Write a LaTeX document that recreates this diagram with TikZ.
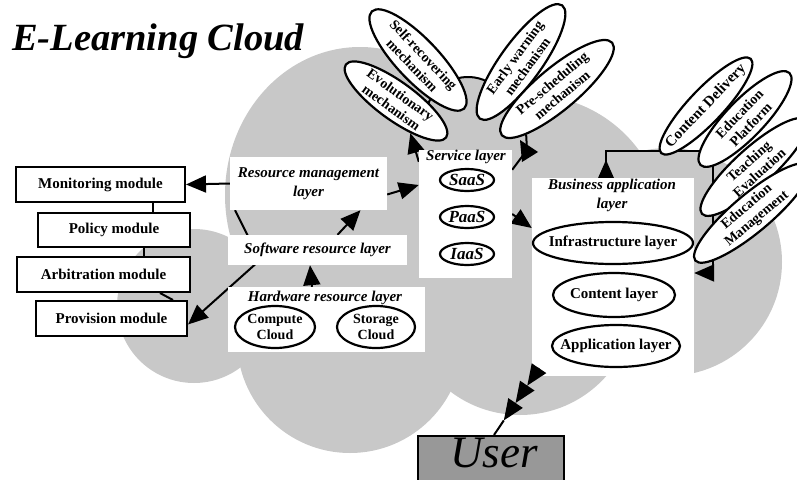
\documentclass[tikz,border=0pt]{standalone}
\usepackage{fontspec}
\setmainfont{Liberation Serif}
\usetikzlibrary{arrows.meta,shapes.geometric,calc}
\definecolor{cloudgray}{RGB}{200,200,200}
\definecolor{usergray}{RGB}{152,152,152}
\pgfdeclarelayer{bg}
\pgfdeclarelayer{links}
\pgfsetlayers{bg,links,main}
\begin{document}
\begin{tikzpicture}[x=1pt,y=-1pt,
  conn/.style={line width=2pt, line join=miter},
  arr/.style={conn,-{Triangle[length=20pt,width=17pt]}},
  modbox/.style={draw, line width=2pt, fill=white, inner sep=0pt,
    font=\bfseries\fontsize{15}{18}\selectfont},
  layerbox/.style={fill=white, inner sep=0pt},
  ttl/.style={font=\bfseries\itshape\fontsize{15}{19}\selectfont, align=center, inner sep=0pt},
  oval/.style={ellipse, draw, line width=2.2pt, fill=white, inner xsep=-40pt, inner ysep=-10pt,
    font=\bfseries\fontsize{15}{17}\selectfont, align=center},
  tight/.style={font=\bfseries\fontsize{14}{15.6}\selectfont},
  svcoval/.style={oval, minimum width=54pt, minimum height=22pt,
    font=\bfseries\itshape\fontsize{17}{17}\selectfont},
]
\useasboundingbox (0,0) rectangle (797,479);
\clip (0,0) rectangle (797,479);

% cloud silhouette
\begin{pgfonlayer}{bg}
  \fill[cloudgray] (360,195) ellipse [x radius=135pt, y radius=148pt];
  \fill[cloudgray] (194,306) circle [radius=77pt];
  \fill[cloudgray] (350,340) circle [radius=113pt];
  \fill[cloudgray] (520,300) circle [radius=115pt];
  \fill[cloudgray] (530,230) circle [radius=135pt];
  \fill[cloudgray] (668,262) circle [radius=114pt];
  \fill[cloudgray] (468,120) circle [radius=43pt];
  \draw[conn] ($(468,120)+(160:43pt)$) arc[start angle=160, end angle=20, radius=43pt];
\end{pgfonlayer}

% title
\node[anchor=base west, inner sep=0pt, font=\bfseries\itshape\fontsize{38.5}{38.5}\selectfont]
  (title) at (12,50) {E-Learning Cloud};

% management modules
\node[modbox, minimum width=169pt, minimum height=35pt] (mon) at (100.5,184.5) {Monitoring module};
\node[modbox, minimum width=152pt, minimum height=34pt] (pol) at (114,230) {Policy module};
\node[modbox, minimum width=173pt, minimum height=35pt] (arb) at (103.5,274.5) {Arbitration module};
\node[modbox, minimum width=151pt, minimum height=35pt] (pro) at (111.5,318.5) {Provision module};

% resource layers
\node[layerbox, ttl, minimum width=157pt, minimum height=53pt] (rm) at (308.5,183.5) {Resource management\\layer};
\node[layerbox, ttl, minimum width=179pt, minimum height=30pt] (sw) at (317.5,250) {Software resource layer};
\node[layerbox, minimum width=197pt, minimum height=65pt] (hw) at (326.5,319.5) {};
\node[ttl] (hwt) at (325,298) {Hardware resource layer};
\node[oval, tight, minimum width=80pt, minimum height=42pt] (cc) at (275,327) {Compute\\Cloud};
\node[oval, tight, minimum width=78pt, minimum height=42pt] (sc) at (376,327) {Storage\\Cloud};

% service layer
\node[layerbox, minimum width=93pt, minimum height=128pt] (svc) at (465.5,214) {};
\node[ttl] (svct) at (466,157) {Service layer};
\node[svcoval] (saas) at (467,180) {SaaS};
\node[svcoval] (paas) at (467,217) {PaaS};
\node[svcoval] (iaas) at (467,254) {IaaS};

% business application layer
\node[layerbox, minimum width=162pt, minimum height=198pt] (biz) at (613,277) {};
\node[ttl] (bizt) at (612,195) {Business application\\layer};
\node[oval, minimum width=160pt, minimum height=42pt] (infra) at (613,243) {Infrastructure layer};
\node[oval, minimum width=122pt, minimum height=44pt] (cont) at (614,295) {Content layer};
\node[oval, minimum width=128pt, minimum height=42pt] (appl) at (616,346) {Application layer};

% user
\node[draw, line width=2pt, fill=usergray, minimum width=146pt, minimum height=60pt,
  anchor=north west, inner sep=0pt] (user) at (417,435) {};
\node[font=\itshape\fontsize{45}{45}\selectfont, inner sep=0pt] (usert) at (494,453) {User};

% mechanisms
\node[oval, tight, minimum width=134pt, minimum height=42pt, rotate=-46.5] (selfrec) at (418,60) {Self-recovering\\mechanism};
\node[oval, tight, minimum width=124pt, minimum height=38pt, rotate=-36] (evo) at (396,101) {Evolutionary\\mechanism};
\node[oval, tight, minimum width=140pt, minimum height=41pt, rotate=54] (early) at (521,62) {Early warning\\mechanism};
\node[oval, tight, minimum width=144pt, minimum height=42pt, rotate=40] (presch) at (557,89) {Pre-scheduling\\mechanism};

% business services
\node[oval, minimum width=130pt, minimum height=34pt, rotate=46.5] (cdel) at (706,106) {Content Delivery};
\node[oval, tight, minimum width=128pt, minimum height=38pt, rotate=46] (eplat) at (745,119) {Education\\Platform};
\node[oval, tight, minimum width=140pt, minimum height=38pt, rotate=42] (teach) at (754,167) {Teaching\\Evaluation};
\node[oval, tight, minimum width=148pt, minimum height=38pt, rotate=40] (emgmt) at (752,213) {Education\\Management};

% connectors
\coordinate (bend1) at (260,260);
\coordinate (pk) at (527,150);
\coordinate (bkA) at (606,151);
\coordinate (bkB) at (713,151);
\coordinate (bkC) at (713,273);
\coordinate (uS) at ($(biz.south)+(-74,-8)$);
\coordinate (uE) at ([xshift=3pt]user.north);
\coordinate (uT1) at ($(uS)!21pt!(uE)$);
\coordinate (uT2) at ($(uS)!42pt!(uE)$);
\coordinate (uT3) at ($(uS)!63pt!(uE)$);
\begin{pgfonlayer}{links}
  \draw[conn] ([xshift=52.5pt]mon.south) -- ([xshift=39pt]pol.north);
  \draw[conn] ([xshift=30pt]pol.south) -- ([xshift=40.5pt]arb.north);
  \draw[conn] ([xshift=56.5pt]arb.south) -- ([xshift=61.5pt]pro.north);
  \draw[arr] (rm.west) -- (mon.east);
  \draw[arr] ([xshift=-73.5pt]rm.south) -- (bend1) -- ([yshift=-6pt]pro.east);
  \draw[arr] ([xshift=20pt]sw.north) -- ([xshift=52pt]rm.south);
  \draw[arr] ([xshift=-14.5pt]hw.north) -- ([xshift=-7.5pt]sw.south);
  \draw[arr] ([yshift=-11pt]rm.east) -- ([yshift=29pt]svc.west);
  \draw[arr] ([yshift=-12pt]svc.north west) -- (evo.-30);
  \draw[conn] (presch.196) -- (pk) -- ([yshift=-20pt]svc.north east);
  \fill ($(pk)+(-7,-10)$) -- ($(pk)+(11,2)$) -- ($(pk)+(-5,12)$) -- cycle;
  \draw[arr] (svc.east) -- ([yshift=49pt]biz.west);
  \draw[conn] ([xshift=-7pt]biz.north) -- (bkA) -- (bkB) -- (bkC);
  \draw[arr] (bkC) -- ([yshift=4pt]biz.east);
  \draw[arr] ([xshift=-7pt]biz.north) -- ([xshift=-7pt,yshift=18pt]biz.north);
  \draw[conn] (uT3) -- (uE);
\end{pgfonlayer}
% triple head from the business layer down to the user
\draw[conn,-{Triangle[length=21pt,width=17pt]}] (uS) -- (uT1);
\draw[conn,-{Triangle[length=21pt,width=17pt]}] (uT1) -- (uT2);
\draw[conn,-{Triangle[length=21pt,width=17pt]}] (uT2) -- (uT3);
\end{tikzpicture}
\end{document}
